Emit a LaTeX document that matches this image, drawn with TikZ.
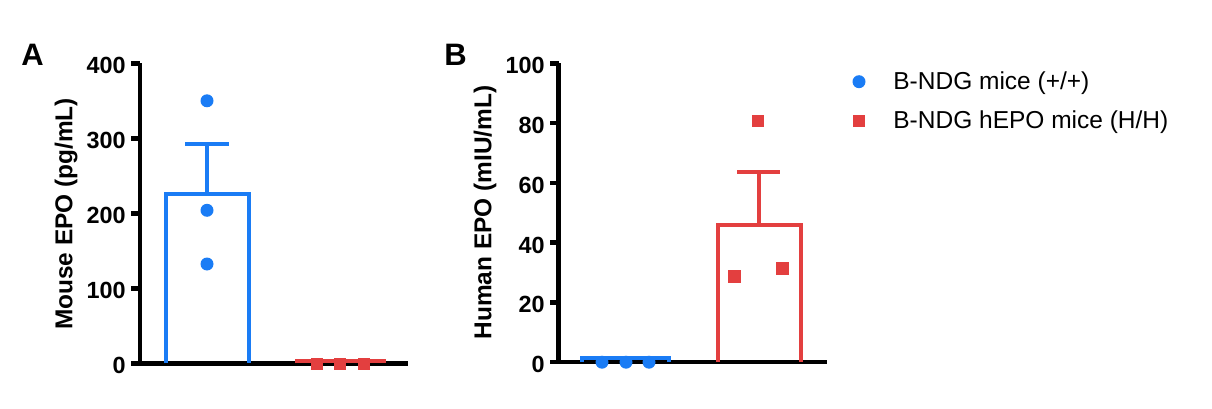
\documentclass[tikz,border=0pt]{standalone}
\usepackage{fontspec}
\setmainfont{Liberation Sans}
\usepackage{xcolor}
\usetikzlibrary{calc}
\definecolor{miceblue}{RGB}{26,124,245}
\definecolor{micered}{RGB}{227,63,63}

\begin{document}
\begin{tikzpicture}[x=0.5pt, y=0.5pt,
        axisline/.style={line width=2.25pt, line join=miter},
        barline/.style={line width=2pt, line join=miter},
        bluedot/.style={circle, fill=miceblue, inner sep=0pt, minimum size=6.5pt},
        redsquare/.style={rectangle, fill=micered, inner sep=0pt, minimum size=6.25pt},
        ticklabel/.style={anchor=east, inner sep=0pt, yshift=-1.25pt, font=\fontsize{11.7}{14}\selectfont\bfseries},
        axistitle/.style={rotate=90, font=\fontsize{12.2}{14}\selectfont\bfseries},
        panelletter/.style={anchor=base west, inner sep=0pt, font=\fontsize{15.5}{18}\selectfont\bfseries},
        legendtext/.style={anchor=base west, inner sep=0pt, font=\fontsize{12.25}{14}\selectfont}]
        \useasboundingbox (0,0) rectangle (1212,408);

        % Panel A: mouse EPO
        \begin{scope}[shift={(140,44.7)}, y=0.375pt]
            % Draw the axes
            \draw[axisline] (0,400) -- (0,0) -- (268,0);
            \foreach \v in {0,100,...,400} {
                \draw[axisline] (-9,\v) -- (0,\v);
                \node[ticklabel] (ta\v) at (-14,\v) {\v};
            }
            % Draw the bars with error bars
            \draw[barline, miceblue] (25.5,0) |- (108.7,226) -- (108.7,0);
            \draw[barline, miceblue] (67,226) -- (67,293);
            \draw[barline, miceblue] (45,293) -- (89,293);
            \draw[barline, micered] (157,0) |- (244,3) -- (244,0);
            % Draw the single values
            \node[bluedot] (a1) at (67,350) {};
            \node[bluedot] (a2) at (67,204) {};
            \node[bluedot] (a3) at (67,132.4) {};
            \node[redsquare] (a4) at (177,-1) {};
            \node[redsquare] (a5) at (200,-1) {};
            \node[redsquare] (a6) at (224,-1) {};
        \end{scope}

        % Panel B: human EPO
        \begin{scope}[shift={(558.5,45.8)}, y=1.4945pt]
            % Draw the axes
            \draw[axisline] (0,100) -- (0,0) -- (268.8,0);
            \foreach \v in {0,20,...,100} {
                \draw[axisline] (-8.5,\v) -- (0,\v);
                \node[ticklabel] (tb\v) at (-13.5,\v) {\v};
            }
            % Draw the bars with error bars
            \draw[barline, miceblue] (23.5,0) |- (110.5,1.3) -- (110.5,0);
            \draw[barline, micered] (159,0) |- (242.3,46) -- (242.3,0);
            \draw[barline, micered] (200.6,46) -- (200.6,63.7);
            \draw[barline, micered] (178.5,63.7) -- (221.5,63.7);
            % Draw the single values
            \node[bluedot] (b1) at (43.5,0) {};
            \node[bluedot] (b2) at (67.5,0) {};
            \node[bluedot] (b3) at (90.5,0) {};
            \node[redsquare] (b4) at (199.5,80.7) {};
            \node[redsquare] (b5) at (175.8,28.6) {};
            \node[redsquare] (b6) at (224.2,31.3) {};
        \end{scope}

        % Label the axes and panels
        \node[axistitle] (ya) at (66,194) {Mouse EPO (pg/mL)};
        \node[axistitle] (yb) at (485,195.5) {Human EPO (mIU/mL)};
        \node[panelletter] (pa) at (21,343) {A};
        \node[panelletter] (pb) at (444,343) {B};

        % Legend
        \node[bluedot] (lg1) at (859,326.3) {};
        \node[legendtext] (lt1) at (893,318.7) {B-NDG mice (+/+)};
        \node[redsquare] (lg2) at (859,287) {};
        \node[legendtext] (lt2) at (893,279.3) {B-NDG hEPO mice (H/H)};
\end{tikzpicture}
\end{document}
